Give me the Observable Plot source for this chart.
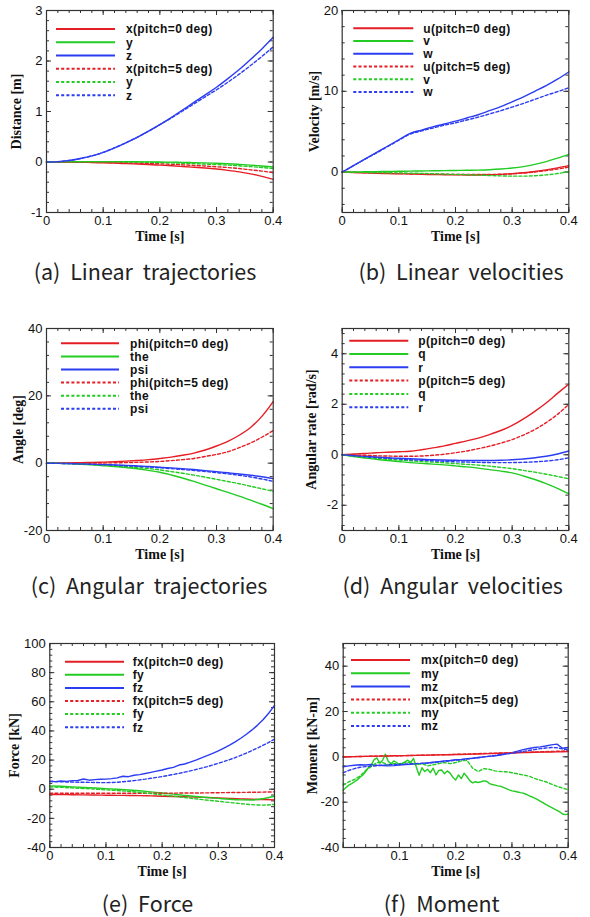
<!DOCTYPE html>
<html><head><meta charset="utf-8">
<script src="https://cdn.jsdelivr.net/npm/d3@7"></script>
<script src="https://cdn.jsdelivr.net/npm/@observablehq/plot@0.6"></script>
<style>
body{margin:0;background:#fff;}
#root{position:relative;width:590px;height:917px;overflow:hidden;background:#fff;}
.panel{position:absolute;}
.cap{position:absolute;font-family:"Noto Sans CJK KR";font-size:21.5px;color:#222;white-space:nowrap;transform:translate(-50%,-50%);word-spacing:5px;line-height:1;}
svg [aria-label="x-axis label"] text, svg [aria-label="y-axis label"] text{font-family:"Liberation Serif",serif;font-weight:bold;font-size:14px;fill:#111;}
</style></head><body><div id="root"></div>
<script>
// ---------- time grids ----------
const t21 = [0,0.02,0.04,0.06,0.08,0.1,0.12,0.14,0.16,0.18,0.2,0.22,0.24,0.26,0.28,0.3,0.32,0.34,0.36,0.38,0.4];
const t41 = [0,0.01,0.02,0.03,0.04,0.05,0.06,0.07,0.08,0.09,0.1,0.11,0.12,0.13,0.14,0.15,0.16,0.17,0.18,0.19,0.2,0.21,0.22,0.23,0.24,0.25,0.26,0.27,0.28,0.29,0.3,0.31,0.32,0.33,0.34,0.35,0.36,0.37,0.38,0.39,0.4];
const t81 = [0,0.005,0.01,0.015,0.02,0.025,0.03,0.035,0.04,0.045,0.05,0.055,0.06,0.065,0.07,0.075,0.08,0.085,0.09,0.095,0.1,0.105,0.11,0.115,0.12,0.125,0.13,0.135,0.14,0.145,0.15,0.155,0.16,0.165,0.17,0.175,0.18,0.185,0.19,0.195,0.2,0.205,0.21,0.215,0.22,0.225,0.23,0.235,0.24,0.245,0.25,0.255,0.26,0.265,0.27,0.275,0.28,0.285,0.29,0.295,0.3,0.305,0.31,0.315,0.32,0.325,0.33,0.335,0.34,0.345,0.35,0.355,0.36,0.365,0.37,0.375,0.38,0.385,0.39,0.395,0.4];

// ---------- (a) linear trajectories [m] ----------
const aX0 = [0,0,-0.002,-0.005,-0.01,-0.016,-0.023,-0.031,-0.04,-0.05,-0.062,-0.075,-0.089,-0.104,-0.12,-0.14,-0.165,-0.195,-0.235,-0.285,-0.345];
const aY0 = [0,0.002,0.004,0.005,0.006,0.006,0.006,0.005,0.004,0.002,0,-0.003,-0.007,-0.012,-0.018,-0.026,-0.035,-0.047,-0.061,-0.078,-0.098];
const aZ0 = [0,0.005,0.03,0.07,0.12,0.19,0.28,0.38,0.49,0.61,0.74,0.88,1.03,1.18,1.33,1.48,1.65,1.83,2.03,2.24,2.47];
const aX5 = [0,0,0,-0.002,-0.004,-0.007,-0.011,-0.016,-0.022,-0.029,-0.037,-0.046,-0.056,-0.067,-0.08,-0.094,-0.11,-0.13,-0.155,-0.18,-0.21];
const aY5 = [0,0.002,0.003,0.004,0.004,0.004,0.003,0.001,-0.002,-0.006,-0.011,-0.017,-0.024,-0.032,-0.041,-0.051,-0.062,-0.075,-0.09,-0.108,-0.128];
const aZ5 = [0,0.005,0.03,0.07,0.12,0.19,0.28,0.38,0.49,0.61,0.74,0.87,1.01,1.15,1.29,1.43,1.58,1.74,1.91,2.09,2.28];

// ---------- (b) linear velocities [m/s] ----------
const bU0 = [0,-0.05,-0.1,-0.14,-0.18,-0.21,-0.24,-0.27,-0.3,-0.32,-0.34,-0.35,-0.35,-0.33,-0.28,-0.2,-0.08,0.08,0.28,0.52,0.8];
const bV0 = [0,0.02,0.04,0.06,0.08,0.1,0.12,0.14,0.16,0.18,0.2,0.22,0.25,0.3,0.38,0.5,0.68,0.95,1.3,1.72,2.2];
const bW0 = [0,0.8,1.6,2.4,3.2,4.0,4.8,5.2,5.6,5.95,6.3,6.7,7.1,7.6,8.1,8.7,9.3,10.0,10.7,11.5,12.4];
const bU5 = [0,-0.04,-0.08,-0.11,-0.14,-0.17,-0.2,-0.23,-0.25,-0.27,-0.29,-0.3,-0.3,-0.29,-0.26,-0.2,-0.11,0.02,0.18,0.38,0.62];
const bV5 = [0,-0.02,-0.04,-0.06,-0.08,-0.1,-0.13,-0.16,-0.2,-0.24,-0.28,-0.32,-0.37,-0.42,-0.47,-0.5,-0.5,-0.45,-0.35,-0.18,0.05];
const bW5 = [0,0.8,1.6,2.35,3.15,3.95,4.7,5.1,5.45,5.8,6.1,6.45,6.8,7.2,7.6,8.05,8.5,9.0,9.5,9.95,10.45];

// ---------- (c) angular trajectories [deg] ----------
const cPhi0 = [0,0.03,0.08,0.14,0.22,0.32,0.44,0.6,0.8,1.05,1.4,1.8,2.35,3.0,3.9,5.1,6.5,8.3,10.6,13.9,18.3];
const cThe0 = [0,-0.05,-0.15,-0.3,-0.5,-0.75,-1.0,-1.3,-1.65,-2.15,-2.7,-3.5,-4.4,-5.4,-6.5,-7.6,-8.7,-9.8,-11.0,-12.2,-13.5];
const cPsi0 = [0,-0.05,-0.12,-0.2,-0.3,-0.4,-0.52,-0.66,-0.82,-1.0,-1.2,-1.4,-1.65,-1.9,-2.2,-2.5,-2.85,-3.2,-3.6,-4.05,-4.6];
const cPhi5 = [0,0,0.01,0.02,0.04,0.07,0.11,0.17,0.25,0.36,0.5,0.75,1.05,1.4,2.0,2.6,3.4,4.6,6.0,7.7,9.7];
const cThe5 = [0,-0.04,-0.12,-0.25,-0.4,-0.6,-0.8,-1.05,-1.3,-1.6,-2.0,-2.5,-3.0,-3.55,-4.15,-4.8,-5.45,-6.1,-6.85,-7.6,-8.4];
const cPsi5 = [0,-0.05,-0.13,-0.23,-0.35,-0.48,-0.62,-0.78,-0.95,-1.15,-1.38,-1.62,-1.88,-2.16,-2.46,-2.8,-3.18,-3.6,-4.1,-4.7,-5.4];

// ---------- (d) angular velocities [rad/s] ----------
const dP0 = [0,0.03,0.05,0.08,0.1,0.12,0.14,0.2,0.27,0.35,0.45,0.55,0.66,0.8,0.96,1.16,1.42,1.72,2.05,2.43,2.8];
const dQ0 = [0,-0.07,-0.13,-0.18,-0.23,-0.27,-0.31,-0.34,-0.37,-0.4,-0.44,-0.48,-0.53,-0.59,-0.65,-0.72,-0.84,-0.98,-1.14,-1.33,-1.55];
const dR0 = [0,-0.03,-0.06,-0.09,-0.12,-0.14,-0.16,-0.18,-0.2,-0.21,-0.22,-0.23,-0.23,-0.23,-0.22,-0.2,-0.17,-0.12,-0.06,0.03,0.15];
const dP5 = [0,-0.01,-0.02,-0.04,-0.05,-0.06,-0.06,-0.05,-0.02,0.02,0.08,0.15,0.24,0.34,0.46,0.6,0.78,1.0,1.27,1.6,2.0];
const dQ5 = [0,-0.05,-0.1,-0.14,-0.18,-0.21,-0.24,-0.27,-0.29,-0.32,-0.35,-0.38,-0.41,-0.45,-0.5,-0.55,-0.62,-0.69,-0.77,-0.86,-0.95];
const dR5 = [0,-0.04,-0.08,-0.11,-0.14,-0.17,-0.2,-0.22,-0.24,-0.26,-0.28,-0.29,-0.3,-0.31,-0.31,-0.31,-0.3,-0.28,-0.25,-0.2,-0.12];

// ---------- (e) force [kN] ----------
const eFx0 = [-3.6,-3.7,-3.8,-3.9,-4.0,-4.1,-4.2,-4.3,-4.4,-4.6,-4.8,-5.0,-5.2,-5.4,-5.7,-6.0,-6.3,-6.6,-6.9,-7.1,-7.3];
const eFy0 = [2.3,2.0,1.6,1.2,0.8,0.4,0,-0.5,-1.1,-1.8,-2.6,-3.4,-4.2,-5.0,-5.7,-6.3,-6.9,-7.3,-7.4,-6.5,-4.8];
const eFz0 = [5.5,5.2,5.6,5.4,5.9,6.0,7.0,6.2,6.6,6.8,6.9,7.3,7.8,8.9,8.6,9.6,10.0,10.8,11.6,12.4,13.2,14.2,15.0,16.6,17.3,18.6,20.0,21.5,23.0,24.6,26.3,28.2,30.2,32.5,35.0,37.7,40.7,44.0,47.8,52.3,57.5];
const eFx5 = [-2.8,-2.8,-2.8,-2.8,-2.8,-2.8,-2.8,-2.8,-2.8,-2.8,-2.7,-2.7,-2.6,-2.6,-2.5,-2.4,-2.3,-2.2,-2.1,-2.0,-1.8];
const eFy5 = [1.6,1.3,0.9,0.5,0.1,-0.4,-0.9,-1.5,-2.2,-3.0,-3.9,-4.8,-5.7,-6.6,-7.5,-8.3,-9.1,-9.9,-10.6,-10.9,-10.4];
const eFz5 = [5.3,5.2,5.1,5.0,4.9,4.8,4.8,4.7,4.6,4.5,4.5,4.6,4.8,5.1,5.5,5.9,6.4,6.9,7.5,8.1,8.7,9.4,10.1,10.9,11.7,12.6,13.5,14.5,15.5,16.6,17.8,19.0,20.3,21.7,23.2,24.8,26.5,28.3,30.2,32.2,34.3];

// ---------- (f) moment [kN-m] ----------
const fMx0 = [0,0.1,0.2,0.3,0.4,0.5,0.6,0.7,0.8,0.9,1.0,1.1,1.25,1.4,1.55,1.7,1.85,2.0,2.1,2.2,2.3];
const fMy0 = [-14.8,-13.5,-12.5,-11.8,-11.0,-10.2,-9.0,-8.0,-6.5,-4.6,-3.5,-1.2,-0.5,-2.8,-1.5,1.2,-2.0,-3.0,-1.8,-2.5,-3.5,-3.0,-2.2,-1.5,-2.5,-0.7,-4.5,-8.1,-4.8,-6.5,-5.5,-7.0,-5.0,-8.0,-6.0,-5.8,-7.5,-6.2,-7.2,-9.0,-10.2,-8.0,-9.6,-7.2,-8.8,-10.5,-11.5,-11.0,-11.3,-11.0,-10.6,-10.8,-11.8,-12.2,-12.5,-12.8,-13.0,-13.5,-14.0,-14.6,-15.0,-15.2,-15.5,-15.8,-16.0,-16.5,-17.1,-17.6,-18.2,-18.8,-19.5,-20.2,-21.0,-21.6,-22.3,-23.0,-23.6,-24.3,-25.2,-25.5,-25.3];
const fMz0 = [-4.4,-4.0,-3.7,-3.5,-3.6,-3.4,-3.7,-3.8,-4.0,-3.9,-3.6,-3.4,-3.3,-3.1,-2.9,-2.7,-2.4,-2.1,-1.8,-1.6,-1.3,-1.1,-0.8,-0.6,-0.3,0.0,0.2,0.4,0.8,1.3,1.8,2.5,3.2,3.7,4.1,4.4,4.8,5.3,5.6,3.8,4.1];
const fMx5 = [0,0.1,0.2,0.3,0.4,0.5,0.6,0.7,0.8,0.95,1.1,1.25,1.4,1.55,1.7,1.85,2.0,2.15,2.3,2.45,2.6];
const fMy5 = [-12.5,-11,-10,-8.5,-6,-4.2,-2.5,-2.5,-3.5,-3,-3,-2.5,-2.5,-3.5,-3,-4,-3.5,-3,-2.5,-3,-2.5,-1.8,-1.5,-5,-6.5,-5.2,-5.5,-6.2,-6.5,-6.6,-7.0,-7.5,-8.0,-8.5,-9.5,-10.3,-11,-12,-13,-13.8,-14.5];
const fMz5 = [-7.0,-6.0,-5.2,-4.6,-4.3,-4.1,-3.9,-3.7,-3.5,-3.4,-3.3,-3.2,-3.1,-3.0,-2.9,-2.7,-2.5,-2.3,-2.0,-1.8,-1.5,-1.3,-1.0,-0.7,-0.4,0.0,0.3,0.6,1.0,1.3,1.6,2.0,2.4,2.8,3.2,3.6,3.9,4.1,4.0,3.5,3.0];

// ---------- labels & ticks ----------
const xTicks = [0,0.1,0.2,0.3,0.4];
const xTicksF = [0.1,0.2,0.3,0.4];
const yTicksA = [-1,0,1,2,3];
const yTicksB = [0,10,20];
const yTicksC = [-20,0,20,40];
const yTicksD = [-2,0,2,4];
const yTicksE = [-40,-20,0,20,40,60,80,100];
const yTicksF = [-40,-20,0,20,40];
const legA = ["x(pitch=0 deg)","y","z","x(pitch=5 deg)","y","z"];
const legB = ["u(pitch=0 deg)","v","w","u(pitch=5 deg)","v","w"];
const legC = ["phi(pitch=0 deg)","the","psi","phi(pitch=5 deg)","the","psi"];
const legD = ["p(pitch=0 deg)","q","r","p(pitch=5 deg)","q","r"];
const legE = ["fx(pitch=0 deg)","fy","fz","fx(pitch=5 deg)","fy","fz"];
const legF = ["mx(pitch=0 deg)","my","mz","mx(pitch=5 deg)","my","mz"];
const captions = ["(a) Linear trajectories","(b) Linear velocities","(c) Angular trajectories","(d) Angular velocities","(e) Force","(f) Moment"];
const yLabels = ["Distance [m]","Velocity [m/s]","Angle [deg]","Angular rate [rad/s]","Force [kN]","Moment [kN-m]"];

const RED = "#e51e25", GREEN = "#22cc22", BLUE = "#2b3cf2";
const COLORS = [RED, GREEN, BLUE, RED, GREEN, BLUE];
const DASHED = [false,false,false,true,true,true];
const DASH = "3,2.2";

function minorTicks(lo, hi, step) {
  const out = [];
  for (let k = Math.ceil(lo/step - 1e-9); k <= Math.floor(hi/step + 1e-9); k++) out.push(+(k*step).toFixed(6));
  return out;
}

function legendMark(labels, L) {
  return (index, scales, values, dims) => {
    const g = d3.create("svg:g");
    labels.forEach((lab, i) => {
      const y = dims.marginTop + L.oy + i * L.dy;
      g.append("line")
        .attr("x1", dims.marginLeft + L.x0).attr("x2", dims.marginLeft + L.x1)
        .attr("y1", y).attr("y2", y)
        .attr("stroke", COLORS[i]).attr("stroke-width", 2)
        .attr("stroke-dasharray", DASHED[i] ? DASH : null);
      g.append("text")
        .attr("x", dims.marginLeft + L.tx).attr("y", y).attr("dy", "0.36em")
        .attr("text-anchor", "start")
        .attr("font-family", "Liberation Sans, Arial, sans-serif")
        .attr("font-weight", "bold").attr("font-size", 12).attr("letter-spacing", "0.35px").attr("fill", "#111")
        .text(lab);
    });
    return g.node();
  };
}

function makePanel(cfg) {
  const innerH = cfg.H - cfg.mt - cfg.mb;
  const innerW = 295 - cfg.ml - cfg.mr;
  const xMin = minorTicks(0, 0.4, 0.02);
  const yMin = minorTicks(cfg.yDomain[0], cfg.yDomain[1], cfg.yStep);
  const yMaj = cfg.yTicks;
  const xMaj = xTicks;
  const tk = {stroke: "#333", strokeWidth: 1};
  const marks = [];
  // inward ticks on all four sides
  marks.push(Plot.tickX(xMin, {x: d => d, insetTop: innerH - 3, ...tk}));
  marks.push(Plot.tickX(xMin, {x: d => d, insetBottom: innerH - 3, ...tk}));
  marks.push(Plot.tickX(xMaj, {x: d => d, insetTop: innerH - 5, ...tk}));
  marks.push(Plot.tickX(xMaj, {x: d => d, insetBottom: innerH - 5, ...tk}));
  marks.push(Plot.tickY(yMin, {y: d => d, insetRight: innerW - 3, ...tk}));
  marks.push(Plot.tickY(yMin, {y: d => d, insetLeft: innerW - 3, ...tk}));
  marks.push(Plot.tickY(yMaj, {y: d => d, insetRight: innerW - 5, ...tk}));
  marks.push(Plot.tickY(yMaj, {y: d => d, insetLeft: innerW - 5, ...tk}));
  // data lines
  cfg.series.forEach((s, i) => {
    const rows = s.t.map((t, j) => ({t, v: s.v[j]}));
    marks.push(Plot.line(rows, {
      x: "t", y: "v", stroke: COLORS[i], strokeWidth: 1.4,
      strokeDasharray: DASHED[i] ? DASH : undefined,
      curve: s.noisy ? "linear" : "monotone-x"
    }));
  });
  marks.push(Plot.frame({stroke: "#333", strokeWidth: 1.2}));
  marks.push(Plot.axisX(cfg.xLabels, {tickSize: 0, tickPadding: 3, tickFormat: d => String(d),
    label: "Time [s]", labelAnchor: "center", labelOffset: 28, labelArrow: "none"}));
  marks.push(Plot.axisY(yMaj, {tickSize: 0, tickPadding: 4, tickFormat: d => String(d),
    label: cfg.yLabel, labelAnchor: "center", labelOffset: cfg.ml - cfg.yLabelX + 7, labelArrow: "none"}));
  marks.push(legendMark(cfg.legend, cfg.L));

  const svg = Plot.plot({
    width: 295, height: cfg.H,
    marginTop: cfg.mt, marginBottom: cfg.mb, marginLeft: cfg.ml, marginRight: cfg.mr,
    x: {domain: [0, 0.4]},
    y: {domain: cfg.yDomain},
    style: {fontSize: "13px", fontFamily: "Liberation Sans, Arial, sans-serif", color: "#111", background: "transparent", overflow: "visible"},
    marks
  });
  const div = document.createElement("div");
  div.className = "panel";
  div.style.left = cfg.left + "px";
  div.style.top = cfg.top + "px";
  div.appendChild(svg);
  document.getElementById("root").appendChild(div);

  const cap = document.createElement("div");
  cap.className = "cap";
  cap.style.left = cfg.capX + "px";
  cap.style.top = cfg.capY + "px";
  cap.textContent = cfg.caption;
  document.getElementById("root").appendChild(cap);
}

const S = (t, a, b, c, d, e, f, noisy) => [
  {t: t[0], v: a, noisy: noisy && noisy[0]}, {t: t[1], v: b, noisy: noisy && noisy[1]}, {t: t[2], v: c, noisy: noisy && noisy[2]},
  {t: t[3], v: d, noisy: noisy && noisy[3]}, {t: t[4], v: e, noisy: noisy && noisy[4]}, {t: t[5], v: f, noisy: noisy && noisy[5]}
];
const T6 = [t21,t21,t21,t21,t21,t21];

makePanel({left: 0, top: 0, H: 250, mt: 10, mb: 38, ml: 46, mr: 22.3,
  yDomain: [-1, 3], yTicks: yTicksA, yStep: 0.2, xLabels: xTicks, yLabel: yLabels[0], yLabelX: 18,
  series: S(T6, aX0, aY0, aZ0, aX5, aY5, aZ5), legend: legA,
  L: {x0: 10, x1: 69, tx: 80, oy: 19, dy: 13.25}, caption: captions[0], capX: 145, capY: 271});

makePanel({left: 295, top: 0, H: 250, mt: 10, mb: 38, ml: 46.7, mr: 21.7,
  yDomain: [-5, 20], yTicks: yTicksB, yStep: 2, xLabels: xTicks, yLabel: yLabels[1], yLabelX: 20.7,
  series: S(T6, bU0, bV0, bW0, bU5, bV5, bW5), legend: legB,
  L: {x0: 11.6, x1: 71.6, tx: 81.6, oy: 18.3, dy: 12.75}, caption: captions[1], capX: 461, capY: 271});

makePanel({left: 0, top: 310, H: 258, mt: 18, mb: 38, ml: 46, mr: 22.3,
  yDomain: [-20, 40], yTicks: yTicksC, yStep: 4, xLabels: xTicks, yLabel: yLabels[2], yLabelX: 19.3,
  series: S(T6, cPhi0, cThe0, cPsi0, cPhi5, cThe5, cPsi5), legend: legC,
  L: {x0: 15, x1: 73, tx: 84, oy: 15.3, dy: 13.1}, caption: captions[2], capX: 149, capY: 585});

makePanel({left: 295, top: 310, H: 258, mt: 18, mb: 38, ml: 46.7, mr: 21.7,
  yDomain: [-3, 5], yTicks: yTicksD, yStep: 0.4, xLabels: xTicks, yLabel: yLabels[3], yLabelX: 18,
  series: S(T6, dP0, dQ0, dR0, dP5, dQ5, dR5), legend: legD,
  L: {x0: 7.6, x1: 66.6, tx: 76.6, oy: 12.7, dy: 13.3}, caption: captions[3], capX: 452.7, capY: 585});

makePanel({left: 0, top: 610, H: 275, mt: 33, mb: 38, ml: 49.3, mr: 21,
  yDomain: [-40, 100], yTicks: yTicksE, yStep: 4, xLabels: xTicks, yLabel: yLabels[4], yLabelX: 16,
  series: S([t21,t21,t41,t21,t21,t41], eFx0, eFy0, eFz0, eFx5, eFy5, eFz5, [false,false,true,false,false,true]), legend: legE,
  L: {x0: 15.7, x1: 74.7, tx: 83.4, oy: 18.7, dy: 13.1}, caption: captions[4], capX: 147.5, capY: 903});

makePanel({left: 295, top: 610, H: 275, mt: 33, mb: 38, ml: 47.7, mr: 22.3,
  yDomain: [-40, 50], yTicks: yTicksF, yStep: 4, xLabels: xTicksF, yLabel: yLabels[5], yLabelX: 18.3,
  series: S([t21,t81,t41,t21,t41,t41], fMx0, fMy0, fMz0, fMx5, fMy5, fMz5, [false,true,true,false,true,true]), legend: legF,
  L: {x0: 8.3, x1: 67.3, tx: 78.3, oy: 17, dy: 13.2}, caption: captions[5], capX: 441.7, capY: 903});
</script></body></html>
